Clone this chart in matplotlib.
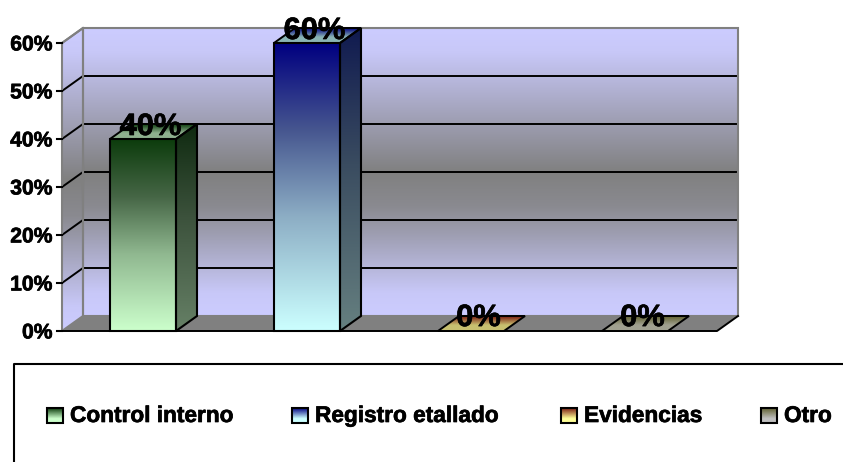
import numpy as np
import matplotlib
matplotlib.use('Agg')
import matplotlib.pyplot as plt
import matplotlib.patheffects as pe
from matplotlib.colors import LinearSegmentedColormap
from matplotlib.patches import Polygon

categories = ['Control interno', 'Registro etallado', 'Evidencias', 'Otro']
values = [40, 60, 0, 0]
value_labels = ['40%', '60%', '0%', '0%']
yticks = [0, 10, 20, 30, 40, 50, 60]
ytick_labels = ['0%', '10%', '20%', '30%', '40%', '50%', '60%']

dark_colors = ['#0c3c0c', '#000080', '#7a1a10', '#606030']
mid1_colors = ['#466646', '#46568f', '#a06a40', '#78785a']
mid2_colors = ['#90b890', '#8cadc4', '#e8d880', '#a0a090']
light_colors = ['#ccffcc', '#ccffff', '#ffff99', '#c0c0c0']
side_dark = ['#0f2a10', '#101a50', '#50200f', '#404020']
side_mid = ['#3c523c', '#3a4c60', '#605030', '#505040']
side_light = ['#668066', '#668080', '#808050', '#707070']
top_front = ['#8fb08f', '#8ab5b5', '#c8c070', '#a0a090']
wall_colors = ['#ccccff', '#c8c8f8', '#808080', '#8a8a90', '#c8c8f8', '#ccccff']
wall_stops = [0, 0.08, 0.5, 0.62, 0.92, 1]
legend_x = [47, 292, 561, 761]

PX = 4.8          # pixels per percent point
x0, x1 = 62, 717  # front of the floor
dx, dy = 21, 15 / PX
bar_left = [110, 274, 438, 602]
bar_w = 66
heavy = [pe.withStroke(linewidth=0.5, foreground='black')]


def grad(ax, verts, cols, stops=None, zorder=2):
    # vertical gradient clipped to a polygon, cols go from top to bottom
    if stops is None:
        stops = np.linspace(0, 1, len(cols))
    cmap = LinearSegmentedColormap.from_list('g', list(zip(stops, cols)))
    verts = np.array(verts)
    ext = [verts[:, 0].min(), verts[:, 0].max(), verts[:, 1].min(), verts[:, 1].max()]
    im = ax.imshow(np.linspace(0, 1, 256).reshape(-1, 1), cmap=cmap, extent=ext,
                   aspect='auto', origin='upper', zorder=zorder, interpolation='bilinear')
    im.set_clip_path(Polygon(verts, closed=True, transform=ax.transData))


def poly(ax, verts, color='black', lw=1.5, zorder=2):
    ax.add_patch(Polygon(verts, closed=True, fill=False, edgecolor=color, linewidth=lw,
                         zorder=zorder, joinstyle='miter'))


fig = plt.figure(figsize=(8.43, 4.62), dpi=100)
ax = fig.add_axes([0, 0, 1, 1])
plt.rcParams['font.family'] = 'Liberation Sans'
top = yticks[-1]

# walls and floor
back = [(x0 + dx, dy), (x1 + dx, dy), (x1 + dx, top + dy), (x0 + dx, top + dy)]
left = [(x0, 0), (x0 + dx, dy), (x0 + dx, top + dy), (x0, top)]
floor = [(x0, 0), (x1, 0), (x1 + dx, dy), (x0 + dx, dy)]
grad(ax, back, wall_colors, wall_stops, 1)
grad(ax, left, wall_colors, wall_stops, 1)
ax.add_patch(Polygon(floor, closed=True, facecolor='#808080', edgecolor='none', zorder=1))

for t in yticks[1:-1]:
    ax.plot([x0, x0 + dx, x1 + dx], [t, t + dy, t + dy], color='black', lw=1.4, zorder=1.5)
poly(ax, back, '#808080', 1.5, 1.6)
poly(ax, left, '#808080', 1.5, 1.6)
ax.plot([x0, x1, x1 + dx], [0, 0, dy], color='black', lw=1.4, zorder=1.7)
ax.plot([x0, x0 + dx], [top, top + dy], color='#808080', lw=1.5, zorder=1.7)

for t, lab in zip(yticks, ytick_labels):
    ax.plot([x0 - 5, x0], [t, t], color='black', lw=1.5, zorder=1.7)
    ax.text(x0 - 9.5, t - 0.4, lab, ha='right', va='center', fontsize=15.2, fontweight='bold',
            path_effects=heavy)

# bars
for i, v in enumerate(values):
    l, r = bar_left[i], bar_left[i] + bar_w
    top_face = [(l, v), (r, v), (r + dx, v + dy), (l + dx, v + dy)]
    grad(ax, top_face, [dark_colors[i], top_front[i], top_front[i]], [0, 0.6, 1], zorder=3)
    poly(ax, top_face, zorder=3.5, lw=1.4)
    if v > 0:
        front = [(l, 0), (r, 0), (r, v), (l, v)]
        side = [(r, 0), (r + dx, dy), (r + dx, v + dy), (r, v)]
        grad(ax, front, [dark_colors[i], mid1_colors[i], mid2_colors[i], light_colors[i]],
             [0, 0.3, 0.6, 1], zorder=3)
        grad(ax, side, [side_dark[i], side_mid[i], side_light[i]], [0, 0.45, 1], zorder=3)
        poly(ax, front, zorder=3.5)
        poly(ax, side, zorder=3.5)
    ax.text(l + 40.5, v + 2.5 + (0.2 if v == 0 else 0), value_labels[i], ha='center', va='center',
            fontsize=22.2, fontweight='bold', zorder=5, path_effects=heavy)

# legend
py = lambda p: (331 - p) / PX  # legend sits in pixel rows below the plot
ax.plot([843, 14, 14], [py(364), py(364), py(462)], color='black', lw=1.5, zorder=2)
for i, name in enumerate(categories):
    sx = legend_x[i]
    sw = [(sx, py(408)), (sx + 16, py(408)), (sx + 16, py(423)), (sx, py(423))]
    grad(ax, sw, [dark_colors[i], light_colors[i], light_colors[i]], [0, 0.7, 1], zorder=3)
    poly(ax, sw, zorder=3.5)
    ax.text(sx + 23, py(415.5), name, ha='left', va='center', fontsize=16.3, fontweight='bold',
            path_effects=heavy)

ax.set_xlim(0, 843)
ax.set_ylim(py(462), py(0))
ax.axis('off')
plt.savefig('out.png', dpi=100)
